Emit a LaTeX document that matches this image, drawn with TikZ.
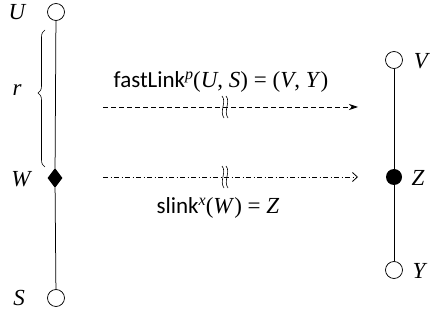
\documentclass[tikz,border=0pt]{standalone}
\usepackage{fontspec}
\setmainfont{Liberation Serif}
\setsansfont{Carlito}
\usetikzlibrary{arrows.meta,decorations.pathreplacing,shapes.geometric}
\newcommand{\supit}[1]{\raisebox{8pt}{\fontsize{16}{16}\selectfont\itshape #1}}
\begin{document}
\begin{tikzpicture}[x=1pt,y=-1pt,
  hollow/.style={circle,draw,line width=0.75pt,minimum size=17pt,inner sep=0pt,fill=white},
  filled/.style={circle,fill=black,minimum size=16pt,inner sep=0pt},
  dia/.style={diamond,fill=black,minimum width=15pt,minimum height=20pt,inner sep=0pt},
  lbl/.style={font=\fontsize{23}{25}\selectfont\itshape,inner sep=0pt},
  txt/.style={font=\fontsize{23}{26}\selectfont,inner sep=0pt},
  edge/.style={line width=0.75pt},
  link/.style={line width=0.8pt,dash pattern=on 5pt off 3pt},
  slk/.style={line width=0.8pt,dash pattern=on 5pt off 2.5pt on 1pt off 2.5pt},
  brk/.style={line width=0.6pt}]
\useasboundingbox (0,0) rectangle (433,320);
% left chain
\node[hollow] (U) at (56,12) {};
\node[dia] (W) at (55,178) {};
\node[hollow] (S) at (56,298) {};
\draw[edge] (U) -- (W);
\draw[edge] (W) -- (S);
% right chain
\node[hollow] (V) at (394,60) {};
\node[filled] (Z) at (394,177) {};
\node[hollow] (Y) at (394,270) {};
\draw[edge] (V) -- (Z);
\draw[edge] (Z) -- (Y);
% labels
\node[lbl] (lU) at (17,12) {U};
\node[lbl] (lW) at (21,179) {W};
\node[lbl] (lS) at (19,298) {S};
\node[lbl] (lr) at (17,90) {r};
\node[lbl] (lV) at (421,61) {V};
\node[lbl] (lZ) at (418,178) {Z};
\node[lbl] (lY) at (419,271) {Y};
% brace
\coordinate (b1) at (45,167);
\coordinate (b2) at (45,30);
\draw[line width=0.6pt,decorate,decoration={brace,amplitude=7pt,aspect=0.54}] (b1) -- (b2);
% fast link arrow
\coordinate (f1) at (103,107);
\coordinate (f2) at (358,107);
\draw[link,-{Stealth[length=9pt,width=6pt]}] (f1) -- (f2);
\node[txt] (ft) at (221,82) {\textsf{fastLink}\supit{p}(\textit{U}, \textit{S}) = (\textit{V}, \textit{Y})};
% slink arrow
\coordinate (s1) at (103,177);
\coordinate (s2) at (358,177);
\draw[slk,-{Straight Barb[length=5pt,width=9pt]}] (s1) -- (s2);
\node[txt] (st) at (218,208) {\textsf{slink}\supit{x}(\textit{W}) = \textit{Z}};
% breaks
\foreach \yy in {107,177}{
  \foreach \xx in {223,227}{
    \draw[brk] (\xx-1,\yy-11) .. controls (\xx+4,\yy-5) and (\xx-4,\yy+4) .. (\xx+1,\yy+11);
  }
}
\end{tikzpicture}
\end{document}
